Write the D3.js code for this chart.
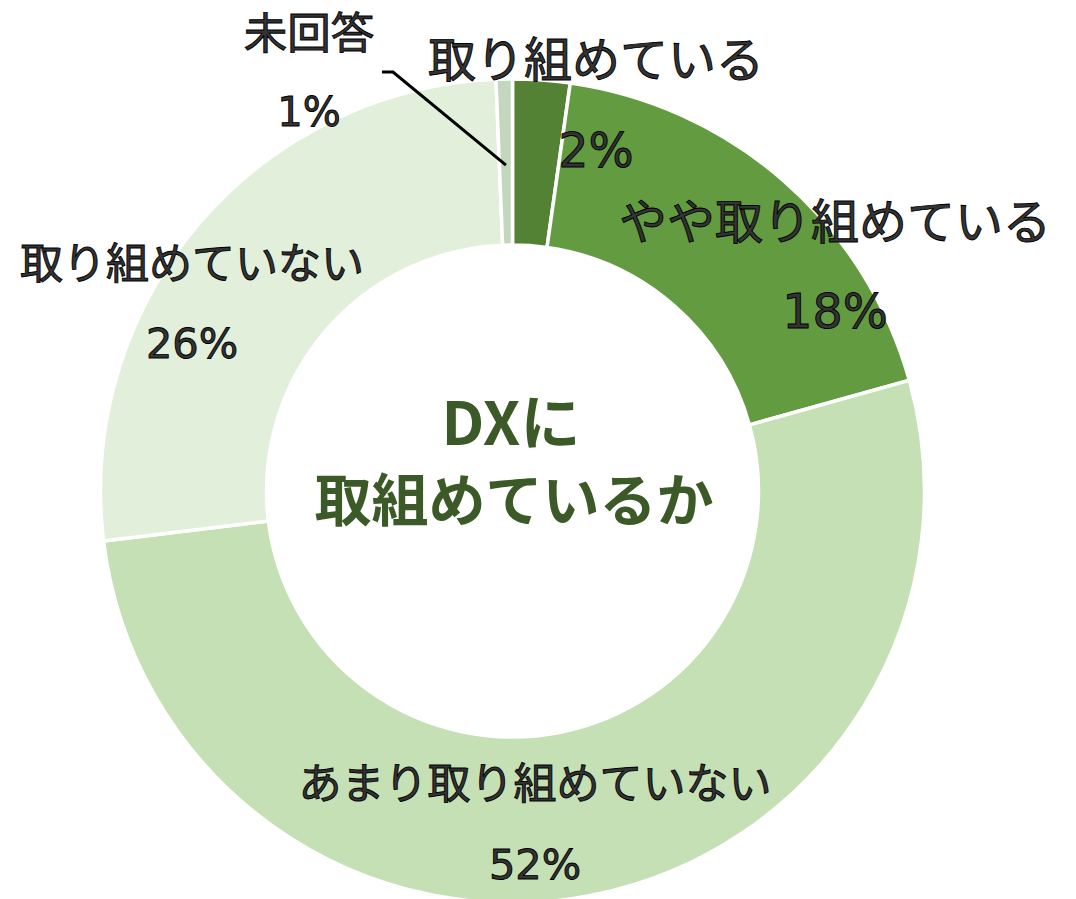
<!DOCTYPE html>
<html>
<head>
<meta charset="utf-8">
<script src="https://cdn.jsdelivr.net/npm/d3@7"></script>
<style>
  html, body { margin: 0; padding: 0; background: #fff; }
  svg { display: block; }
</style>
</head>
<body>
<svg id="chart" width="1076" height="899"></svg>
<script>
// Survey answers: "Is the company working on DX?" (share of respondents, %)
const categories = ["取り組めている", "やや取り組めている", "あまり取り組めていない", "取り組めていない", "未回答"];
const shares = [2.24, 18.43, 52.39, 26.30, 0.64];
const colors = ["#548235", "#629B40", "#C5E0B4", "#E2EFDA", "#C3D7BC"];
const titleLines = ["DXに", "取組めているか"];

// Label anchor points (name line, percent line) and type sizes for each slice
const labelPos = [
  { x: 596, y: 56,  py: 150, nameSize: 48,   pctSize: 47.5 },
  { x: 835, y: 218, py: 311, nameSize: 48,   pctSize: 47.5 },
  { x: 535, y: 780, py: 864, nameSize: 43,   pctSize: 41.5 },
  { x: 192, y: 260, py: 343, nameSize: 43,   pctSize: 41.5 },
  { x: 309, y: 30,  py: 112, nameSize: 43.5, pctSize: 40 }
];

const svg = d3.select("#chart");
const cx = 512.5, cy = 491;
const outerR = 412, innerR = 246;

const data = categories.map((c, i) => ({ name: c, value: shares[i], color: colors[i], i }));

const pie = d3.pie().value(d => d.value).sort(null);
const arc = d3.arc().innerRadius(innerR).outerRadius(outerR);

const g = svg.append("g").attr("transform", `translate(${cx},${cy})`);

const arcs = pie(data);
g.selectAll("path.slice")
  .data(arcs)
  .join("path")
  .attr("class", "slice")
  .attr("d", arc)
  .attr("fill", d => d.data.color)
  .attr("stroke", "#fff")
  .attr("stroke-width", 3.5)
  .attr("stroke-linejoin", "miter");

// Leader line for the thin "未回答" slice
const tiny = arcs[4];
const mid = (tiny.startAngle + tiny.endAngle) / 2;
const endPt = [cx + Math.sin(mid) * (innerR + 80), cy - Math.cos(mid) * (innerR + 80)];
svg.append("path")
  .attr("d", d3.line()([[382, 72], [393, 72], endPt]))
  .attr("fill", "none")
  .attr("stroke", "#000")
  .attr("stroke-width", 3);

const fmt = d3.format(".0f");
const nameFont = "'Noto Sans CJK JP', 'Noto Sans', sans-serif";
const pctFont = "'DejaVu Sans', 'Noto Sans', sans-serif";

const labels = svg.append("g");
data.forEach((d, i) => {
  const p = labelPos[i];
  labels.append("text")
    .attr("x", p.x).attr("y", p.y)
    .attr("text-anchor", "middle")
    .attr("dominant-baseline", "central")
    .attr("font-family", nameFont)
    .attr("font-size", p.nameSize)
    .attr("fill", "#333")
    .attr("stroke", "#000")
    .attr("stroke-width", 0.9)
    .text(d.name);
  labels.append("text")
    .attr("x", p.x).attr("y", p.py)
    .attr("text-anchor", "middle")
    .attr("dominant-baseline", "central")
    .attr("font-family", pctFont)
    .attr("font-size", p.pctSize)
    .attr("fill", "#333")
    .attr("stroke", "#000")
    .attr("stroke-width", 0.9)
    .text(fmt(d.value) + "%");
});

// Center title
const title = svg.append("g")
  .attr("font-family", nameFont)
  .attr("font-weight", "bold")
  .attr("fill", "#3B5A27")
  .attr("text-anchor", "middle");
title.append("text").attr("x", 511).attr("y", 418)
  .attr("dominant-baseline", "central").attr("font-size", 60).text(titleLines[0]);
title.append("text").attr("x", 514).attr("y", 496)
  .attr("dominant-baseline", "central").attr("font-size", 57).text(titleLines[1]);
</script>
</body>
</html>
